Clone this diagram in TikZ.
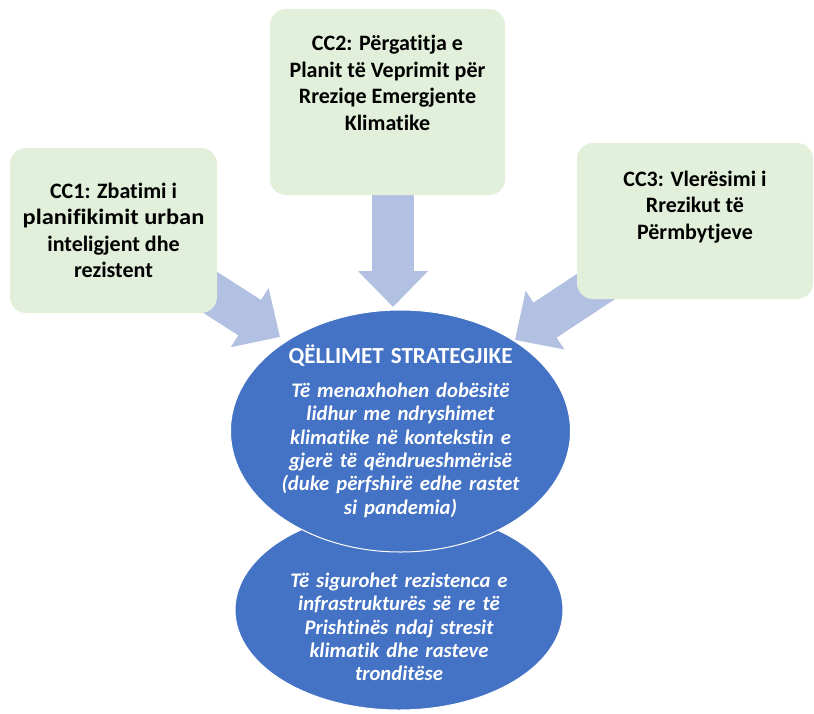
\documentclass[tikz,border=0pt]{standalone}
\usepackage{fontspec}
\setmainfont{Carlito}[Ligatures={NoCommon}]
\usetikzlibrary{arrows.meta,shapes.geometric}
\definecolor{boxgreen}{RGB}{226,239,218}
\definecolor{arrowblue}{RGB}{178,192,226}
\definecolor{goalblue}{RGB}{68,114,196}
\pgfdeclarelayer{back}
\pgfsetlayers{back,main}
\newcommand{\widegaps}{\spaceskip=0.34em plus 0.1em minus 0.05em\relax}

\begin{document}
\begin{tikzpicture}[x=1pt,y=-1pt,
  ccbox/.style={rectangle,rounded corners=16pt,fill=boxgreen,align=center,
    font=\fontsize{22}{26.5}\selectfont\bfseries},
  flow/.style={arrowblue,line width=\sw pt,-{Triangle[length=\hl pt,width=\hw pt]}},
  goal/.style={ellipse,fill=goalblue,draw=white,line width=1pt,inner sep=0pt},
  goaltext/.style={text=white,align=center,
    font=\fontsize{20.7}{23.3}\selectfont\bfseries\itshape\widegaps}]
  \def\sw{42}
  \def\hw{68}
  \def\hl{36}
  \useasboundingbox (0,0) rectangle (814,713);
  % boxes
  \node[ccbox,minimum width=207pt,minimum height=165pt] (cc1) at (113.5,230.5)
    {CC1: Zbatimi i\\{\addfontfeature{FakeStretch=1.11}planifikimit urban}\\inteligjent dhe\\rezistent};
  \node[ccbox,minimum width=235pt,minimum height=186pt,text depth=38pt] (cc2) at (387.5,102)
    {CC2: Përgatitja e\\Planit të Veprimit për\\Rreziqe Emergjente\\Klimatike};
  \node[ccbox,minimum width=236pt,minimum height=156pt,text depth=32pt] (cc3) at (695,221)
    {CC3: Vlerësimi i\\Rrezikut të\\Përmbytjeve};
  \coordinate (t1) at (280,337);
  \coordinate (t2) at (393,307);
  \coordinate (t3) at (515,340);
  % arrows, behind the boxes
  \begin{pgfonlayer}{back}
    \draw[flow] (cc1.center) -- (t1);
    \draw[flow] (t2 |- cc2.center) -- (t2);
    \draw[flow] (cc3.center) -- (t3);
  \end{pgfonlayer}
  % goals
  \node[goal,minimum width=328pt,minimum height=200pt] (goal2) at (399,610) {};
  \node[goal,minimum width=340pt,minimum height=242pt] (goal1) at (400.5,431) {};
  \node[goaltext] (aim1) at (400.5,431)
    {{\upshape\fontsize{23}{23.3}\selectfont QËLLIMET STRATEGJIKE}\\[11pt]Të menaxhohen dobësitë\\lidhur me ndryshimet\\klimatike në kontekstin e\\gjerë të qëndrueshmërisë\\(duke përfshirë edhe rastet\\si pandemia)};
  \node[goaltext] (aim2) at (399,627)
    {Të sigurohet rezistenca e\\infrastrukturës së re të\\Prishtinës ndaj stresit\\klimatik dhe rasteve\\tronditëse};
\end{tikzpicture}
\end{document}
